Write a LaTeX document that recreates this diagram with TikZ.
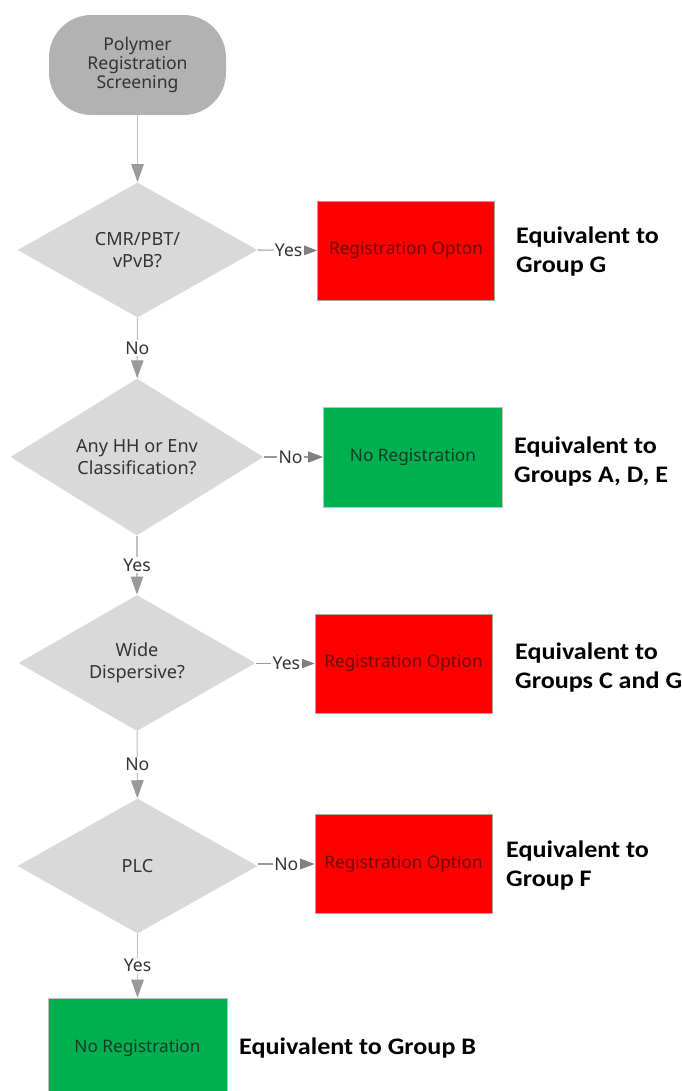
\documentclass[tikz,border=0pt]{standalone}
\usepackage{fontspec}
\setmainfont{Noto Sans}
\newfontfamily\eqfont[FakeStretch=1.1]{Carlito}
\usetikzlibrary{arrows.meta,shapes.geometric,positioning}
\definecolor{optred}{RGB}{255,0,0}
\definecolor{noreggreen}{RGB}{0,176,80}
\definecolor{optredtext}{RGB}{110,10,10}
\definecolor{noregtext}{RGB}{20,60,35}

\begin{document}
\begin{tikzpicture}[
    startbox/.style={fill=gray!60, rounded corners=0.85cm, minimum width=3.54cm, minimum height=2cm, align=center, font=\fontsize{10}{10.8}\selectfont, text=black!80},
    decision/.style={diamond, fill=gray!30, minimum width=4.8cm, minimum height=2.7cm, inner sep=0pt, align=center, font=\fontsize{10.3}{12.5}\selectfont, text=black!80},
    option/.style={draw=gray!70, fill=optred, minimum width=3.54cm, minimum height=1.98cm, font=\fontsize{9.8}{12}\selectfont, text=optredtext},
    noreg/.style={draw=gray!50, fill=noreggreen, minimum width=3.58cm, minimum height=2cm, font=\fontsize{9.8}{12}\selectfont, text=noregtext},
    equiv/.style={anchor=west, align=left, font=\eqfont\bfseries\fontsize{13.5}{16.5}\selectfont},
    arr/.style={-{Triangle[length=0.36cm, width=0.25cm, color=gray!80]}, draw=gray!50, semithick},
    harr/.style={-{Triangle[length=0.3cm, width=0.22cm, color=gray]}, draw=gray!80, semithick},
    lbl/.style={fill=white, inner sep=0.8pt, font=\fontsize{10}{12}\selectfont, text=black!80}
]
\useasboundingbox (0,0) rectangle (13.62,-21.82);

\node[startbox] (start) at (2.75,-1.30) {Polymer\\Registration\\Screening};
\node[decision] (d1) at (2.75,-5.00) {CMR/PBT/\\vPvB?};
\node[decision, minimum width=5.06cm, minimum height=2.82cm] (d2) at (2.74,-9.14) {Any HH or Env\\Classification?};
\node[decision, minimum width=4.74cm, minimum height=2.64cm] (d3) at (2.74,-13.26) {Wide\\Dispersive?};
\node[decision] (d4) at (2.75,-17.32) {PLC};
\node[noreg] (end) at (2.75,-20.96) {No Registration};

\node[option] (o1) at (8.12,-5.01) {Registration Opton};
\node[noreg] (o2) at (8.26,-9.14) {No Registration};
\node[option] (o3) at (8.07,-13.27) {Registration Option};
\node[option] (o4) at (8.07,-17.28) {Registration Option};

\node[equiv] (e1) at (10.2,-5.04) {Equivalent to\\Group G};
\node[equiv] (e2) at (10.16,-9.24) {Equivalent to\\Groups A, D, E};
\node[equiv] (e3) at (10.18,-13.36) {Equivalent to\\Groups C and G};
\node[equiv] (e4) at (10.0,-17.32) {Equivalent to\\Group F};
\node[equiv] (e5) at (4.66,-20.96) {Equivalent to Group B};

\draw[arr] (start) -- (d1);
\draw[arr] (d1) -- node[lbl] {No} (d2);
\draw[arr] (d2) -- node[lbl] {Yes} (d3);
\draw[arr] (d3) -- node[lbl] {No} (d4);
\draw[arr] (d4) -- node[lbl] {Yes} (end);

\draw[harr] (d1.east) -- node[lbl, pos=0.52] {Yes} (o1.west);
\draw[harr] (d2.east) -- node[lbl, pos=0.45] {No} (o2.west);
\draw[harr] (d3.east |- o3.west) -- node[lbl, pos=0.52] {Yes} (o3.west);
\draw[harr] (d4.east |- o4.west) -- node[lbl, pos=0.5] {No} (o4.west);
\end{tikzpicture}
\end{document}
